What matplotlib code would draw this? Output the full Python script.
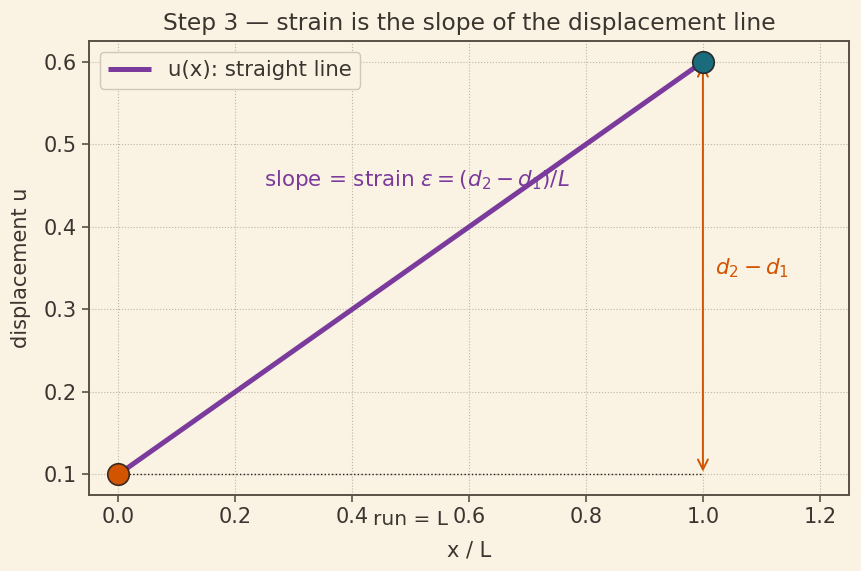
import matplotlib
matplotlib.use("Agg")
import matplotlib.pyplot as plt

x_pts = [0.0, 1.0]
u_pts = [0.1, 0.6]
d1 = 0.1
d2 = 0.6
xticks = [0.0, 0.2, 0.4, 0.6, 0.8, 1.0, 1.2]
yticks = [0.1, 0.2, 0.3, 0.4, 0.5, 0.6]

bg = "#faf3e3"
txt = "#3b3530"
purple = "#7a3b9c"
orange = "#d35400"
teal = "#1a6b7c"

plt.rcParams['font.family'] = ['DejaVu Sans']
fig = plt.figure(figsize=(8.62, 5.71), dpi=100, facecolor=bg)
ax = fig.add_axes([0.1033, 0.133, 0.8817, 0.795], facecolor=bg)

ax.grid(True, linestyle=':', color='#bdb5a5', linewidth=0.8)
ax.set_axisbelow(True)

ax.plot(x_pts, u_pts, color=purple, lw=3.6, label='u(x): straight line', zorder=3, solid_capstyle='butt')
ax.plot([x_pts[0], x_pts[1]], [d1, d1], ls=':', color='#222222', lw=1.0, zorder=2)
ax.plot([x_pts[0]], [d1], 'o', ms=15.5, color=orange, mec='#3a2a20', mew=1.2, zorder=5)
ax.plot([x_pts[1]], [d2], 'o', ms=15.5, color=teal, mec='#2a2a2a', mew=1.2, zorder=5)

ax.annotate('', xy=(1.0, d2), xytext=(1.0, d1),
            arrowprops=dict(arrowstyle='<->', color=orange, lw=1.4, mutation_scale=18), zorder=4)
ax.text(1.02, 0.35, r'$d_2 - d_1$', color=orange, fontsize=15.5, va='center', ha='left')
ax.text(0.25, 0.4565, r'slope = strain $\varepsilon = (d_2 - d_1)/L$', color=purple,
        fontsize=15.5, va='center', ha='left')
ax.text(0.5, 0.045, 'run = L', color=txt, fontsize=14.5, va='center', ha='center', clip_on=False)

ax.set_xlim(-0.05, 1.25)
ax.set_ylim(0.075, 0.625)
ax.set_xticks(xticks)
ax.set_yticks(yticks)
ax.set_xticklabels([f"{t:.1f}" for t in xticks])
ax.set_yticklabels([f"{t:.1f}" for t in yticks])
ax.tick_params(colors=txt, labelsize=15, color='#5a5045', length=5, width=1.2)
for s in ax.spines.values():
    s.set_color('#5a5045')
    s.set_linewidth(1.4)

ax.set_xlabel('x / L', fontsize=15, color=txt, labelpad=10)
ax.set_ylabel('displacement u', fontsize=15, color=txt, labelpad=9)
ax.set_title('Step 3 — strain is the slope of the displacement line', fontsize=16.8, color=txt, pad=8)

leg = ax.legend(loc='upper left', fontsize=15.3, facecolor=bg, edgecolor='#cfc8b8', framealpha=1,
                handlelength=2.0)
for t in leg.get_texts():
    t.set_color(txt)

fig.savefig('out.png', dpi=100, facecolor=bg)
